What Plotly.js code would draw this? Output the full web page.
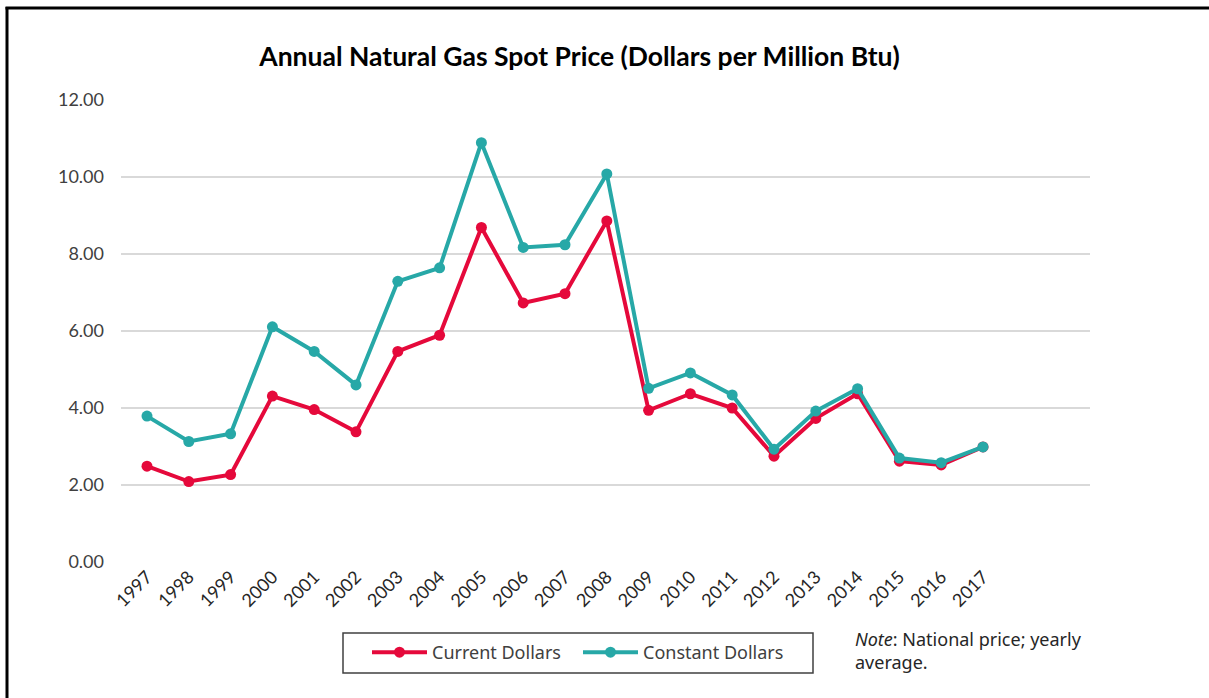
<!DOCTYPE html>
<html>
<head>
<meta charset="utf-8">
<script src="https://cdn.plot.ly/plotly-3.0.1.min.js"></script>
<style>
html,body{margin:0;padding:0;background:#fff;}
#chart{width:1209px;height:698px;}
</style>
</head>
<body>
<div id="chart"></div>
<script>
const years = [1997,1998,1999,2000,2001,2002,2003,2004,2005,2006,2007,2008,2009,2010,2011,2012,2013,2014,2015,2016,2017];
const currentDollars = [2.49,2.09,2.27,4.31,3.96,3.38,5.47,5.89,8.69,6.73,6.97,8.86,3.94,4.37,4.00,2.75,3.73,4.37,2.62,2.52,2.99];
const constantDollars = [3.79,3.13,3.33,6.11,5.47,4.60,7.29,7.64,10.89,8.17,8.24,10.08,4.51,4.91,4.34,2.93,3.92,4.50,2.70,2.58,2.99];
const yTicks = [0,2,4,6,8,10,12];
const yTickText = ["0.00","2.00","4.00","6.00","8.00","10.00","12.00"];

const RED = "#E5093B";
const TEAL = "#27A8A7";

// plot area in pixels: x 121..1090, y 100..562
const PL = 121, PW = 969, PB = 562, PH = 462;
const px = v => (v - PL) / PW;
const py = v => (PB - v) / PH;

const traces = [
  {x: years, y: currentDollars, name: "Current Dollars", type: "scatter", mode: "lines+markers",
   line: {color: RED, width: 4}, marker: {color: RED, size: 11}},
  {x: years, y: constantDollars, name: "Constant Dollars", type: "scatter", mode: "lines+markers",
   line: {color: TEAL, width: 4}, marker: {color: TEAL, size: 11}}
];

const layout = {
  width: 1209, height: 698,
  margin: {l: PL, r: 1209 - PL - PW, t: 100, b: 698 - PB},
  paper_bgcolor: "#fff", plot_bgcolor: "#fff",
  title: {text: "Annual Natural Gas Spot Price (Dollars per Million Btu)",
          font: {family: "Lato", size: 26.5, color: "#000", weight: 700},
          x: 579.5 / 1209, xref: "container", xanchor: "center", y: 1 - 57 / 698, yref: "container", yanchor: "middle"},
  xaxis: {range: [1996.378, 2019.56], tickvals: years, ticktext: years.map(String), tickangle: -45,
          showgrid: false, zeroline: false, showline: false, ticks: "",
          tickfont: {family: "Lato", size: 18, color: "#262626"}, fixedrange: true},
  yaxis: {range: [0, 12], tickvals: yTicks, ticktext: yTickText,
          showgrid: true, gridcolor: "#D9D9D9", gridwidth: 1.3, zeroline: false, showline: false, ticks: "",
          ticklabelstandoff: 16,
          tickfont: {family: "Lato", size: 18, color: "#404040"}, fixedrange: true},
  showlegend: true,
  legend: {orientation: "h", x: px(367), y: py(634), xanchor: "left", yanchor: "top",
           borderwidth: 0, bgcolor: "rgba(0,0,0,0)",
           font: {family: "Noto Sans", size: 18, color: "#404040"},
           entrywidth: 141, itemwidth: 55, traceorder: "normal"},
  annotations: [
    {text: "<i>Note</i>: National price; yearly<br>average.", xref: "paper", yref: "paper",
     x: px(853), y: py(625), xanchor: "left", yanchor: "top", align: "left", showarrow: false,
     font: {family: "Noto Sans", size: 18, color: "#262626"}}
  ],
  shapes: [
    {type: "rect", xref: "paper", yref: "paper", x0: px(343), x1: px(813), y0: py(633), y1: py(673),
     line: {color: "#404040", width: 1.5}, fillcolor: "rgba(0,0,0,0)", layer: "below"},
    {type: "line", xref: "paper", yref: "paper", x0: px(7), x1: px(7), y0: py(7), y1: py(705),
     line: {color: "#000", width: 3}},
    {type: "line", xref: "paper", yref: "paper", x0: px(5.5), x1: px(1215), y0: py(8), y1: py(8),
     line: {color: "#000", width: 3}}
  ]
};

Plotly.newPlot("chart", traces, layout, {displayModeBar: false, staticPlot: true});
</script>
</body>
</html>
